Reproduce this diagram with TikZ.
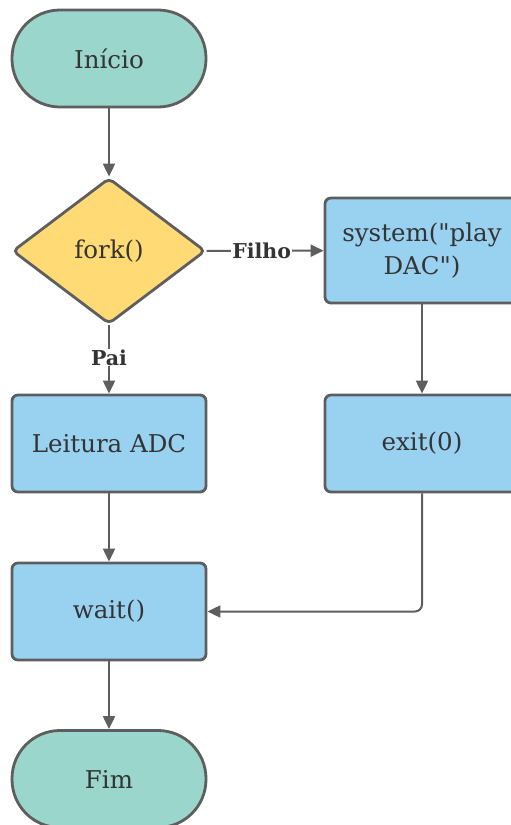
\documentclass[tikz,border=0pt]{standalone}
\usepackage{fontspec}
\setmainfont{DejaVu Serif}
\newfontfamily\nomapfont{DejaVu Serif}
\usetikzlibrary{shapes.geometric,arrows.meta}
\definecolor{teal1}{RGB}{154,214,203}
\definecolor{yel1}{RGB}{255,218,117}
\definecolor{blue1}{RGB}{153,209,241}
\definecolor{edge1}{RGB}{94,94,94}
\definecolor{txt1}{RGB}{52,52,52}
\begin{document}
\begin{tikzpicture}[x=1pt,y=1pt,
  base/.style={draw=edge1,line width=2.8pt,text=txt1,font=\fontsize{24.5}{33}\selectfont,inner sep=0pt,align=center},
  term/.style={base,fill=teal1,minimum width=194pt,minimum height=97pt,rounded corners=48pt},
  proc/.style={base,fill=blue1,minimum width=194pt,minimum height=97pt,rounded corners=6pt},
  dec/.style={base,fill=yel1,shape=diamond,aspect=1.33,minimum width=193pt,minimum height=146pt,rounded corners=5pt},
  conn/.style={draw=edge1,line width=2pt,-{Triangle[length=13pt,width=12pt]}},
  lbl/.style={fill=white,text=txt1,font=\bfseries\fontsize{20.5}{24}\selectfont,inner sep=1pt}]
\useasboundingbox (0,0) rectangle (511,-825);
\node[term] (inicio) at (109,-58.5) {Início};
\node[dec] (fork) at (109,-251) {fork()};
\node[proc,minimum height=105pt,font=\nomapfont\fontsize{24.5}{33}\selectfont] (system) at (422,-250.5) {system("play\\DAC")};
\node[proc] (leitura) at (109,-443.5) {Leitura ADC};
\node[proc] (exit) at (422,-443.5) {exit(0)};
\node[proc] (wait) at (109,-611.5) {wait()};
\node[term] (fim) at (109,-779) {Fim};
\draw[conn] (inicio) -- (fork);
\draw[conn] (fork) -- node[lbl,pos=0.47] {Filho} (system);
\draw[conn] (fork) -- node[lbl,pos=0.47] {Pai} (leitura);
\draw[conn] (system) -- (exit);
\draw[conn] (leitura) -- (wait);
\draw[conn,rounded corners=7pt] (exit.south) |- (wait.east);
\draw[conn] (wait) -- (fim);
\end{tikzpicture}
\end{document}
